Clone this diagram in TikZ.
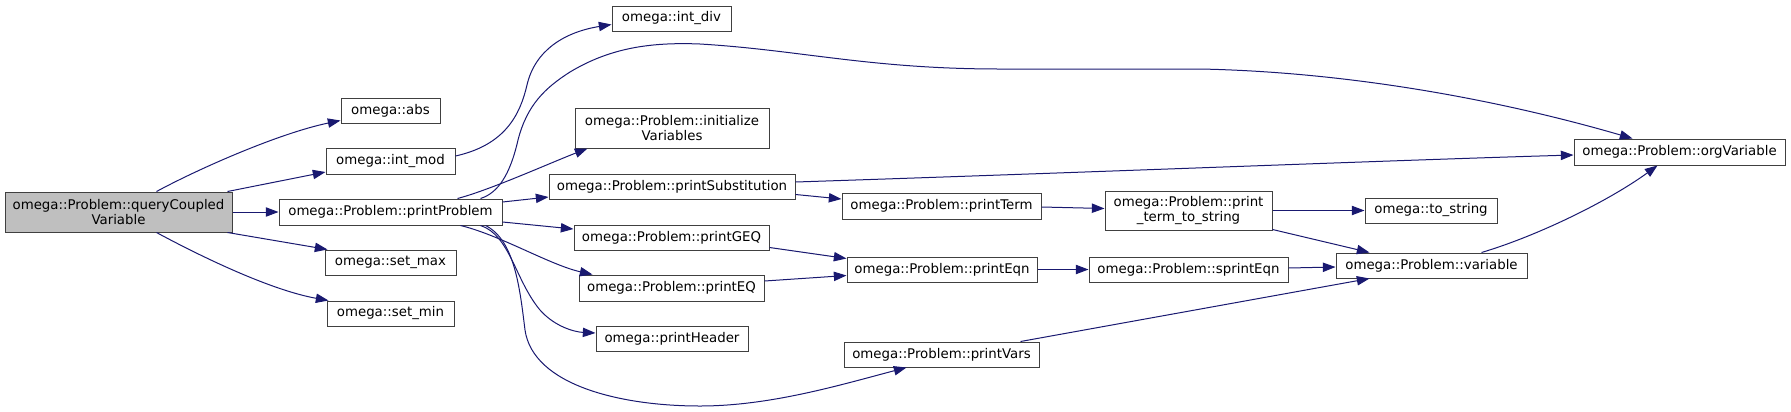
\documentclass[tikz,border=0pt]{standalone}
\usepackage{fontspec}
\setmainfont{DejaVu Sans}
\usetikzlibrary{arrows.meta,calc}
\definecolor{edgec}{HTML}{191970}
\definecolor{boxc}{HTML}{404040}
\definecolor{grayf}{HTML}{BFBFBF}
\begin{document}
\begin{tikzpicture}[x=0.75pt,y=-0.75pt,
  box/.style={draw=boxc,line width=0.75pt,fill=white,inner sep=0pt,align=center,
    font=\fontsize{10}{11.5}\selectfont},
  sz/.style 2 args={minimum width=#1*0.75pt,minimum height=#2*0.75pt},
  edge/.style={draw=edgec,line width=0.75pt,-{Triangle[length=9.5pt,width=7pt]}}]
\useasboundingbox (0,0) rectangle (1791,411);
\node[box,sz={227}{40},fill=grayf] (q) at (118.5,212) {omega::Problem::queryCoupled\\Variable};
\node[box,sz={99}{25}] (abs) at (390.5,110.5) {omega::abs};
\node[box,sz={129}{26}] (intmod) at (390.5,161) {omega::int\_mod};
\node[box,sz={223}{26}] (pp) at (390.5,212) {omega::Problem::printProblem};
\node[box,sz={131}{25}] (setmax) at (390.5,262.5) {omega::set\_max};
\node[box,sz={127}{25}] (setmin) at (390.5,313.5) {omega::set\_min};
\node[box,sz={119}{25}] (intdiv) at (671.5,18.5) {omega::int\_div};
\node[box,sz={194}{40}] (initv) at (672,128) {omega::Problem::initialize\\Variables};
\node[box,sz={246}{25}] (psub) at (672,186.5) {omega::Problem::printSubstitution};
\node[box,sz={195}{25}] (pgeq) at (671.5,237.5) {omega::Problem::printGEQ};
\node[box,sz={185}{26}] (peq) at (671.5,288) {omega::Problem::printEQ};
\node[box,sz={152}{25}] (phdr) at (672,338.5) {omega::printHeader};
\node[box,sz={199}{26}] (pterm) at (941.5,206) {omega::Problem::printTerm};
\node[box,sz={190}{25}] (peqn) at (942,269.5) {omega::Problem::printEqn};
\node[box,sz={195}{25}] (pvars) at (941.5,354.5) {omega::Problem::printVars};
\node[box,sz={167}{39}] (ptts) at (1188.5,210.5) {omega::Problem::print\\\_term\_to\_string};
\node[box,sz={199}{25}] (spe) at (1188.5,269.5) {omega::Problem::sprintEqn};
\node[box,sz={132}{25}] (tostr) at (1431,210.5) {omega::to\_string};
\node[box,sz={191}{25}] (var) at (1431.5,265.5) {omega::Problem::variable};
\node[box,sz={211}{26}] (orgv) at (1679.5,152) {omega::Problem::orgVariable};
% edges
\draw[edge] ($(q.north)+(38,0)$) .. controls (200,168) and (280,133) .. ($(abs.west)+(0,10)$);
\draw[edge] ($(q.north east)+(-5,0)$) -- ($(intmod.west)+(0,11)$);
\draw[edge] (q.east) -- (pp.west);
\draw[edge] ($(q.south east)+(-5,0)$) -- ($(setmax.north west)+(3,0)$);
\draw[edge] ($(q.south)+(38,0)$) .. controls (200,256) and (270,290) .. ($(setmin.north west)+(2,0)$);
\draw[edge] ($(intmod.east)+(0,-5)$) .. controls (505,145) and (520,115) .. (527,85)
  .. controls (535,50) and (565,32) .. ($(intdiv.west)+(0,6)$);
\draw[edge] ($(pp.north east)+(-22,0)$) .. controls (498,193) and (510,175) .. (518,140)
  .. controls (527,105) and (545,88) .. (570,72)
  .. controls (610,48) and (650,42) .. (700,44)
  .. controls (800,50) and (870,69) .. (1000,69) -- (1200,69)
  .. controls (1350,72) and (1500,100) .. ($(orgv.north west)+(59,0)$);
\draw[edge] ($(pp.north east)+(-45,0)$) .. controls (490,190) and (550,163) .. ($(initv.south west)+(13,0)$);
\draw[edge] ($(pp.east)+(0,-10)$) -- ($(psub.west)+(0,10.5)$);
\draw[edge] ($(pp.east)+(0,10)$) -- ($(pgeq.west)+(0,-8.5)$);
\draw[edge] ($(pp.south east)+(-42,0)$) .. controls (500,235) and (550,265) .. ($(peq.north west)+(14,0)$);
\draw[edge] ($(pp.south east)+(-22,0)$) .. controls (510,235) and (515,280) .. (540,310)
  .. controls (555,327) and (575,332) .. ($(phdr.west)+(0,-5.5)$);
\draw[edge] ($(pp.south east)+(-17,0)$) .. controls (515,240) and (520,290) .. (525,330)
  .. controls (533,385) and (620,406) .. (700,406)
  .. controls (770,406) and (840,385) .. ($(pvars.south west)+(63,0)$);
\draw[edge] ($(psub.east)+(0,-4.5)$) .. controls (1100,172) and (1400,160) .. ($(orgv.west)+(0,3)$);
\draw[edge] ($(psub.east)+(0,8)$) -- ($(pterm.west)+(0,-7)$);
\draw[edge] ($(pterm.east)+(0,1)$) -- ($(ptts.west)+(0,-2)$);
\draw[edge] (ptts.east) -- (tostr.west);
\draw[edge] ($(ptts.south east)+(0,-1)$) -- ($(var.north west)+(34,0)$);
\draw[edge] ($(pgeq.east)+(0,10)$) -- ($(peqn.west)+(0,-11)$);
\draw[edge] ($(peq.east)+(0,-7)$) -- ($(peqn.west)+(0,6)$);
\draw[edge] (peqn.east) -- (spe.west);
\draw[edge] ($(spe.east)+(0,-1.5)$) -- ($(var.west)+(0,1.5)$);
\draw[edge] ($(pvars.north east)+(-19,0)$) -- ($(var.south west)+(34,0)$);
\draw[edge] ($(var.north east)+(-46,0)$) .. controls (1540,235) and (1610,200) .. ($(orgv.south west)+(84,0)$);
\end{tikzpicture}
\end{document}
